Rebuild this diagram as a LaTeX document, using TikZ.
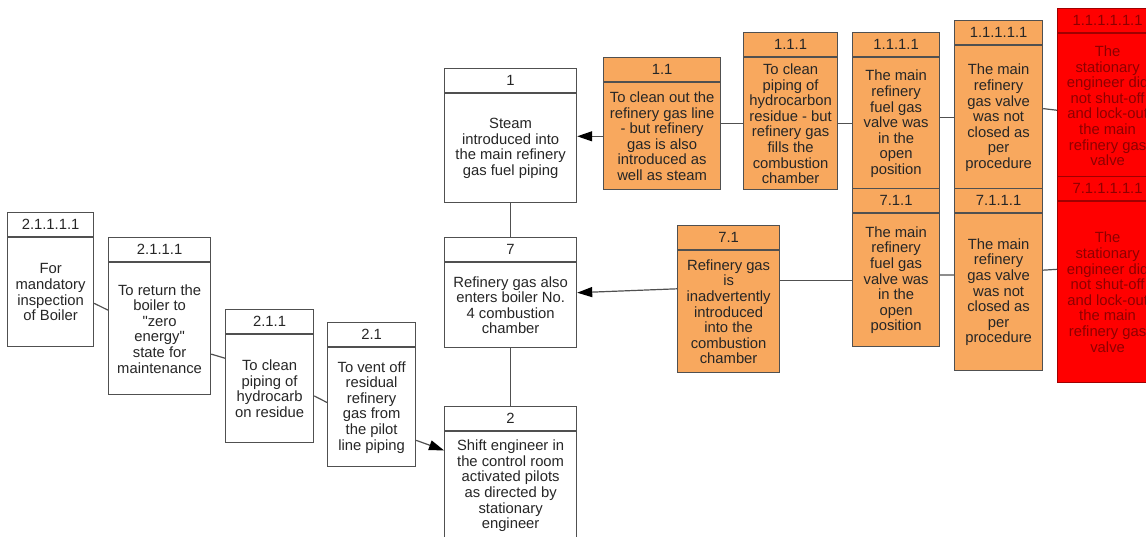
\documentclass[tikz,border=0pt]{standalone}
\usepackage{fontspec}
\setmainfont{Liberation Sans}[Ligatures=TeXOff]
\usetikzlibrary{positioning,calc,arrows.meta}
\definecolor{cause}{HTML}{F8A85E}
\definecolor{edge}{HTML}{505050}
\definecolor{ink}{HTML}{262626}
\definecolor{rootink}{HTML}{8E0000}
\definecolor{rootedge}{HTML}{A00000}
\newcommand\boxfont{\fontsize{14.8}{15.6}\selectfont}
\tikzset{
  box/.style={ % one part of a tree box
    draw=edge, line width=1.2pt, inner sep=0pt,
    align=center, text=ink, font=\boxfont
  },
  head/.style={box, minimum height=24pt, anchor=north west},
  body/.style={box},
  plain/.style={fill=white},
  contrib/.style={fill=cause},
  rootcause/.style={fill=red, draw=rootedge, text=rootink},
  conn/.style={draw=edge, line width=1.2pt},
  arr/.style={conn, -{Triangle[length=15pt,width=10pt,color=black]}}
}
\begin{document}
\begin{tikzpicture}[x=1pt, y=-1pt]
  \path[use as bounding box] (0,0) rectangle (1146,536);
  \clip (0,0) rectangle (1146,536);

  % main events
  \node[head, plain, minimum width=132pt] (h1) at (444,68) {1};
  \node[body, plain, minimum width=132pt, minimum height=109pt, below=0pt of h1] (b1)
    {Steam\\introduced into\\the main refinery\\gas fuel piping};
  \node[head, plain, minimum width=132pt] (h7) at (444,237) {7};
  \node[body, plain, minimum width=132pt, minimum height=85pt, below=0pt of h7] (b7)
    {Refinery gas also\\enters boiler No.\\4 combustion\\chamber};
  \node[head, plain, minimum width=132pt] (h2) at (444,406) {2};
  \node[body, plain, minimum width=132pt, minimum height=108pt, below=0pt of h2] (b2)
    {Shift engineer in\\the control room\\activated pilots\\as directed by\\stationary\\engineer};

  % branch of 2
  \node[head, plain, minimum width=88pt] (h21) at (327,322) {2.1};
  \node[body, plain, minimum width=88pt, minimum height=119pt, below=0pt of h21] (b21)
    {To vent off\\residual\\refinery\\gas from\\the pilot\\line piping};
  \node[head, plain, minimum width=88pt] (h211) at (225,309) {2.1.1};
  \node[body, plain, minimum width=88pt, minimum height=108pt, below=0pt of h211] (b211)
    {To clean\\piping of\\hydrocarb\\on residue};
  \node[head, plain, minimum width=102pt] (h2111) at (108,237) {2.1.1.1};
  \node[body, plain, minimum width=102pt, minimum height=132pt, below=0pt of h2111] (b2111)
    {To return the\\boiler to\\"zero\\energy"\\state for\\maintenance};
  \node[head, plain, minimum width=86pt] (h21111) at (7,212) {2.1.1.1.1};
  \node[body, plain, minimum width=86pt, minimum height=109pt, below=0pt of h21111] (b21111)
    {For\\mandatory\\inspection\\of Boiler};

  % branch of 1
  \node[head, contrib, minimum width=117pt] (h11) at (603,57) {1.1};
  \node[body, contrib, minimum width=117pt, minimum height=107pt, below=0pt of h11] (b11)
    {To clean out the\\refinery gas line\\- but refinery\\gas is also\\introduced as\\well as steam};
  \node[head, contrib, minimum width=94pt] (h111) at (743,32) {1.1.1};
  \node[body, contrib, minimum width=94pt, minimum height=132pt, below=0pt of h111] (b111)
    {To clean\\piping of\\hydrocarbon\\residue - but\\refinery gas\\fills the\\combustion\\chamber};
  \node[head, contrib, minimum width=87pt] (h1111) at (852,32) {1.1.1.1};
  \node[body, contrib, minimum width=87pt, minimum height=132pt, below=0pt of h1111] (b1111)
    {The main\\refinery\\fuel gas\\valve was\\in the\\open\\position};
  \node[head, contrib, minimum width=88pt] (h11111) at (954,20) {1.1.1.1.1};
  \node[body, contrib, minimum width=88pt, minimum height=144pt, below=0pt of h11111] (b11111)
    {The main\\refinery\\gas valve\\was not\\closed as\\per\\procedure};
  \node[head, rootcause, minimum width=100pt] (hr1) at (1057,8) {1.1.1.1.1.1};
  \node[body, rootcause, minimum width=100pt, minimum height=144pt, below=0pt of hr1] (br1)
    {The\\stationary\\engineer did\\not shut-off\\and lock-out\\the main\\refinery gas\\valve};

  % branch of 7
  \node[head, contrib, minimum width=102pt] (h71) at (677,225) {7.1};
  \node[body, contrib, minimum width=102pt, minimum height=122pt, below=0pt of h71] (b71)
    {Refinery gas\\is\\inadvertently\\introduced\\into the\\combustion\\chamber};
  \node[head, contrib, minimum width=87pt] (h711) at (852,188) {7.1.1};
  \node[body, contrib, minimum width=87pt, minimum height=133pt, below=0pt of h711] (b711)
    {The main\\refinery\\fuel gas\\valve was\\in the\\open\\position};
  \node[head, contrib, minimum width=88pt] (h7111) at (954,188) {7.1.1.1};
  \node[body, contrib, minimum width=88pt, minimum height=157pt, below=0pt of h7111] (b7111)
    {The main\\refinery\\gas valve\\was not\\closed as\\per\\procedure};
  \node[head, rootcause, minimum width=100pt] (hr7) at (1057,176) {7.1.1.1.1.1};
  \node[body, rootcause, minimum width=100pt, minimum height=181pt, below=0pt of hr7] (br7)
    {The\\stationary\\engineer did\\not shut-off\\and lock-out\\the main\\refinery gas\\valve};

  % connectors
  \draw[conn] (b1.south) -- (h7.north);
  \draw[conn] (b7.south) -- (h2.north);
  \draw[arr] (b11.west) -- (b11.west -| b1.east);
  \draw[conn] (b111.west) -- (b111.west -| b11.east);
  \draw[conn] (b1111.west) -- (b1111.west -| b111.east);
  \draw[conn] (b11111.west) -- (b11111.west -| b1111.east);
  \draw[conn] ($(hr1.north west)!0.6!(br1.south west)$) -- ($(h11111.north east)!0.52!(b11111.south east)$);
  \draw[arr] ($(h71.north west)!0.43!(b71.south west)$) -- ($(h7.north east)!0.5!(b7.south east)$);
  \draw[conn] (b711.west) -- (b711.west -| b71.east);
  \draw[conn] ($(b7111.north west)!0.39!(b7111.south west)$) -- ($(b711.north east)!0.46!(b711.south east)$);
  \draw[conn] ($(hr7.north west)!0.45!(br7.south west)$) -- ($(b7111.north east)!0.36!(b7111.south east)$);
  \draw[arr] ($(b21.north east)!0.775!(b21.south east)$) -- ($(h2.north west)!0.33!(b2.south west)$);
  \draw[conn] ($(b211.north east)!0.565!(b211.south east)$) -- ($(b21.north west)!0.46!(b21.south west)$);
  \draw[conn] ($(b2111.north east)!0.69!(b2111.south east)$) -- ($(b211.north west)!0.22!(b211.south west)$);
  \draw[conn] ($(b21111.north east)!0.6!(b21111.south east)$) -- ($(b2111.north west)!0.36!(b2111.south west)$);
\end{tikzpicture}
\end{document}
